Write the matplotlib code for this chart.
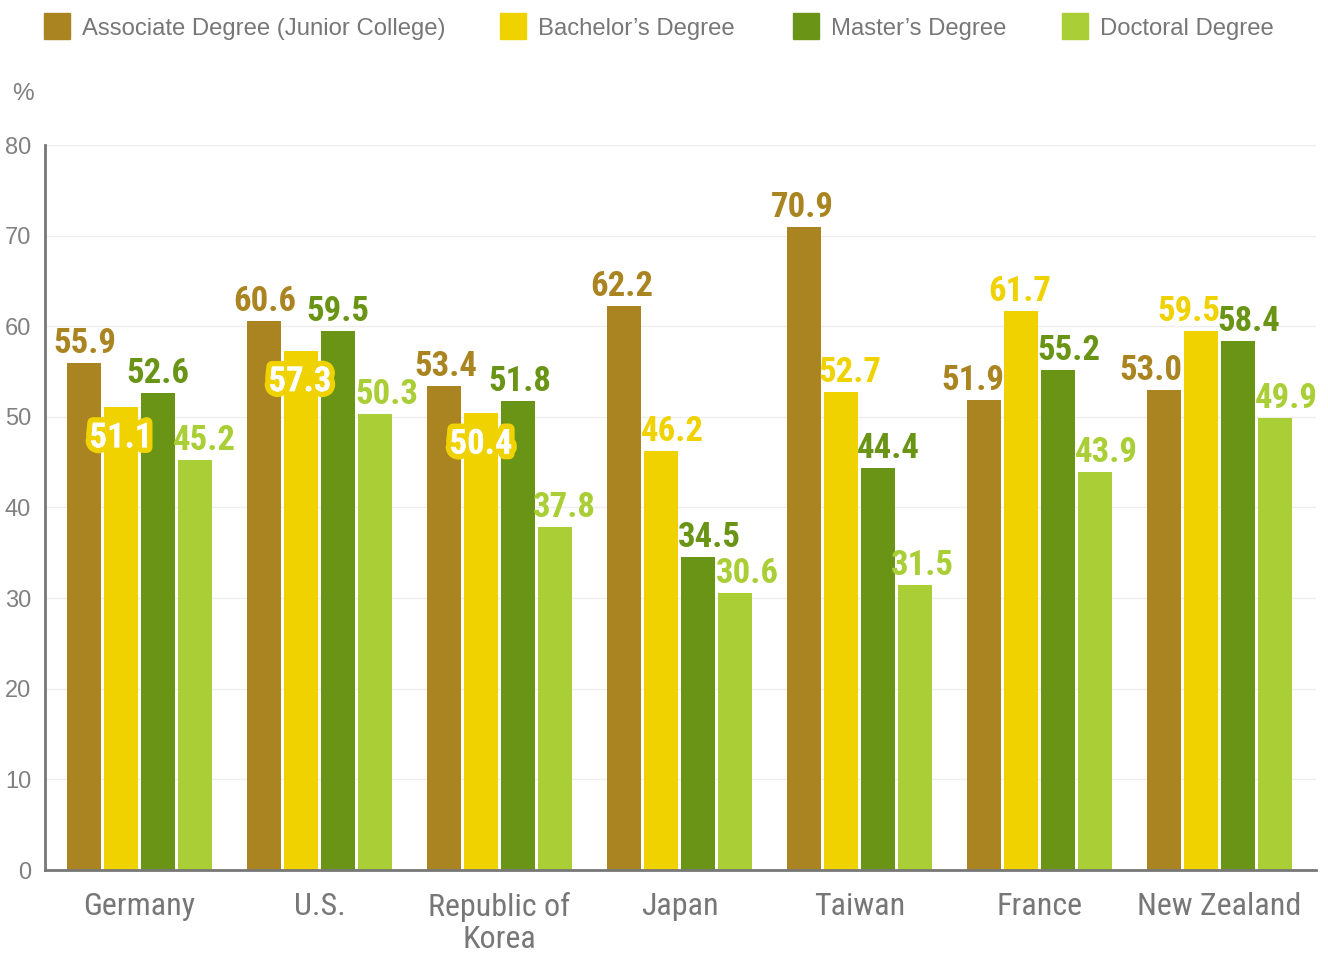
import matplotlib
matplotlib.use("Agg")
import matplotlib.pyplot as plt
from matplotlib import font_manager
import matplotlib.patheffects as pe
from matplotlib.patches import Rectangle
import numpy as np

categories = ["Germany", "U.S.", "Republic of\nKorea", "Japan", "Taiwan", "France", "New Zealand"]
series_names = ["Associate Degree (Junior College)", "Bachelor\u2019s Degree", "Master\u2019s Degree", "Doctoral Degree"]
associate = [55.9, 60.6, 53.4, 62.2, 70.9, 51.9, 53.0]
bachelor = [51.1, 57.3, 50.4, 46.2, 52.7, 61.7, 59.5]
master = [52.6, 59.5, 51.8, 34.5, 44.4, 55.2, 58.4]
doctoral = [45.2, 50.3, 37.8, 30.6, 31.5, 43.9, 49.9]
yticks = [0, 10, 20, 30, 40, 50, 60, 70, 80]

colors = ["#AA8421", "#F0D200", "#6A9415", "#AACE36"]
series = [associate, bachelor, master, doctoral]
# label horizontal nudges (pixels) and inside-label flags (style only)
nudges = [[1, 1, 2, -2, -2, -11, -13],
          [0, -1, 0, 11, 9, -1, -12],
          [0, 0, 2, 11, 10, 11, 11],
          [9, 12, 9, 12, 7, 11, 11]]
inside = {(1, 0), (1, 1), (1, 2)}

names = {f.name for f in font_manager.fontManager.ttflist}
cond = None
for cand in ["Roboto Condensed", "Liberation Sans Narrow", "DejaVu Sans Condensed", "Open Sans Condensed", "Noto Sans Condensed"]:
    if cand in names:
        cond = cand
        break
if cond is None:
    for f in font_manager.fontManager.ttflist:
        if f.stretch in ("condensed", "semi-condensed", "extra-condensed", "ultra-condensed", 75, 62.5, 87.5):
            cond = f.name
            break
if cond is None:
    cond = "Liberation Sans"
base = "Liberation Sans" if "Liberation Sans" in names else "DejaVu Sans"

W, H = 1328, 955
fig = plt.figure(figsize=(W / 100, H / 100), dpi=100)
ax = fig.add_axes([45 / W, 1 - 870 / H, (1316 - 45) / W, (870 - 145) / H])

n = len(categories)
x = np.arange(n)
bw = 0.19
step = 0.2055
for j, vals in enumerate(series):
    ax.bar(x + (j - 1.5) * step, vals, width=bw, color=colors[j], zorder=2)

ax.set_xlim(-0.525, n - 1 + 0.535)
ax.set_ylim(0, 80)
ax.set_yticks(yticks)
ax.set_yticklabels([str(t) for t in yticks], fontsize=17, color="#808080", family=base)
ax.yaxis.grid(True, color="#EEEEEE", linewidth=1, zorder=0)
ax.set_axisbelow(True)
for s in ["top", "right"]:
    ax.spines[s].set_visible(False)
for s in ["left", "bottom"]:
    ax.spines[s].set_color("#777777")
    ax.spines[s].set_linewidth(2)
ax.tick_params(axis="y", length=0, pad=10)
ax.tick_params(axis="x", length=0, pad=16)
ax.set_xticks(x)
ax.set_xticklabels(categories, fontsize=23, color="#777777", family=cond, linespacing=1.12, va="top")

px = 72 / 100  # points per pixel
for j, vals in enumerate(series):
    for i, v in enumerate(vals):
        xc = x[i] + (j - 1.5) * step
        dx = nudges[j][i] * px
        if (j, i) in inside:
            ax.annotate(f"{v:.1f}", (xc, v), xytext=(dx, -31 * px), textcoords="offset points",
                        ha="center", va="center", fontsize=25, color="white", family=cond,
                        fontweight="bold", zorder=5,
                        path_effects=[pe.withSimplePatchShadow(offset=(1, -1), shadow_rgbFace="#333333", alpha=0.6),
                                      pe.withStroke(linewidth=8, foreground=colors[1]),
                                      pe.Normal()])
        else:
            ax.annotate(f"{v:.1f}", (xc, v), xytext=(dx, 10 * px), textcoords="offset points",
                        ha="center", va="baseline", fontsize=25, color=colors[j], family=cond,
                        fontweight="bold", zorder=5)

# legend
leg_x = [44, 500, 793, 1062]
for j, name in enumerate(series_names):
    fig.patches.append(Rectangle((leg_x[j] / W, 1 - 39 / H), 26 / W, 26 / H, transform=fig.transFigure,
                                 color=colors[j], figure=fig))
    fig.text((leg_x[j] + 38) / W, 1 - 28.5 / H, name, fontsize=17.2, color="#777777", family=base,
             va="center", ha="left")

fig.text(12 / W, 1 - 94 / H, "%", fontsize=17.5, color="#808080", family=base, va="center", ha="left")

fig.savefig("out.png", dpi=100)
